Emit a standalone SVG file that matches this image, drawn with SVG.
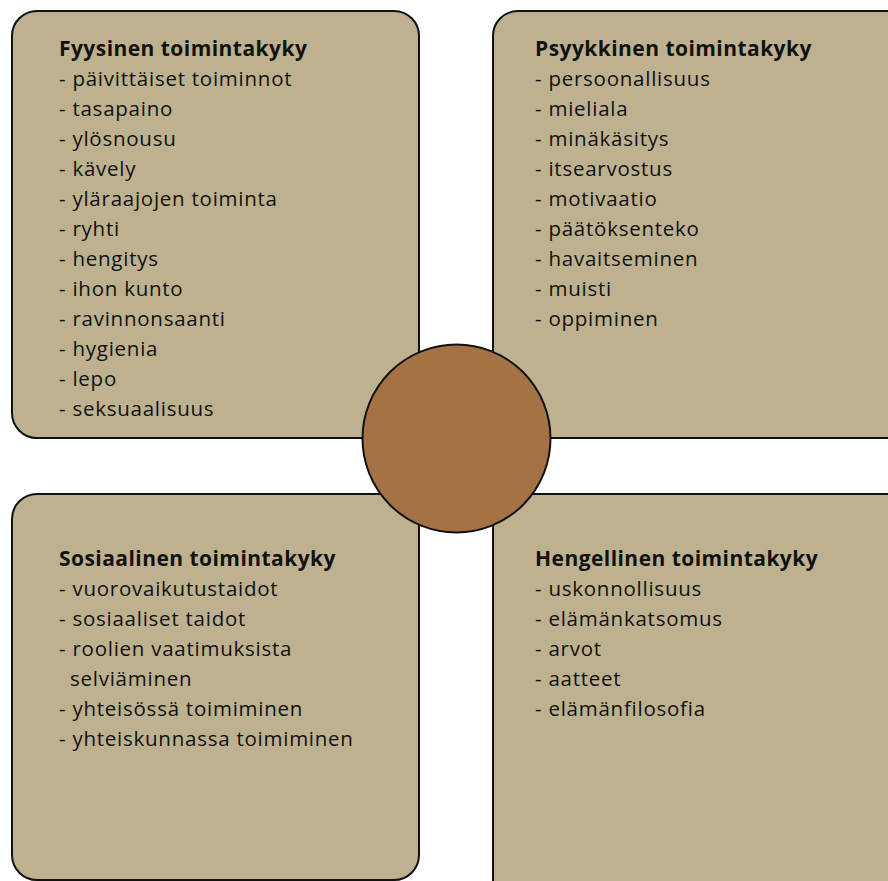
<svg xmlns="http://www.w3.org/2000/svg" width="888" height="881" viewBox="0 0 888 881">
<style>
.box{fill:#BEB18F;stroke:#111;stroke-width:2}
.hub{fill:#A57245;stroke:#111;stroke-width:2}
text{font-family:"Open Sans","Liberation Sans",sans-serif;font-size:20.5px;letter-spacing:0.75px;fill:#111}
.t{font-weight:bold;font-size:21px;letter-spacing:0.45px}
</style>
<rect width="888" height="881" fill="#fff"/>
<g id="fyysinen">
<rect class="box" x="12" y="11" width="407" height="427" rx="25"/>
<text class="t" x="59" y="56">Fyysinen toimintakyky</text>
<text x="59" y="86">- päivittäiset toiminnot</text>
<text x="59" y="116">- tasapaino</text>
<text x="59" y="146">- ylösnousu</text>
<text x="59" y="176">- kävely</text>
<text x="59" y="206">- yläraajojen toiminta</text>
<text x="59" y="236">- ryhti</text>
<text x="59" y="266">- hengitys</text>
<text x="59" y="296">- ihon kunto</text>
<text x="59" y="326">- ravinnonsaanti</text>
<text x="59" y="356">- hygienia</text>
<text x="59" y="386">- lepo</text>
<text x="59" y="416">- seksuaalisuus</text>
</g>
<g id="psyykkinen">
<rect class="box" x="493" y="11" width="420" height="427" rx="25"/>
<text class="t" x="535" y="56">Psyykkinen toimintakyky</text>
<text x="535" y="86">- persoonallisuus</text>
<text x="535" y="116">- mieliala</text>
<text x="535" y="146">- minäkäsitys</text>
<text x="535" y="176">- itsearvostus</text>
<text x="535" y="206">- motivaatio</text>
<text x="535" y="236">- päätöksenteko</text>
<text x="535" y="266">- havaitseminen</text>
<text x="535" y="296">- muisti</text>
<text x="535" y="326">- oppiminen</text>
</g>
<g id="sosiaalinen">
<rect class="box" x="12" y="494" width="407" height="386" rx="25"/>
<text class="t" x="59" y="566">Sosiaalinen toimintakyky</text>
<text x="59" y="596">- vuorovaikutustaidot</text>
<text x="59" y="626">- sosiaaliset taidot</text>
<text x="59" y="656">- roolien vaatimuksista</text>
<text x="70" y="686">selviäminen</text>
<text x="59" y="716">- yhteisössä toimiminen</text>
<text x="59" y="746">- yhteiskunnassa toimiminen</text>
</g>
<g id="hengellinen">
<rect class="box" x="493" y="494" width="420" height="420" rx="25"/>
<text class="t" x="535" y="566">Hengellinen toimintakyky</text>
<text x="535" y="596">- uskonnollisuus</text>
<text x="535" y="626">- elämänkatsomus</text>
<text x="535" y="656">- arvot</text>
<text x="535" y="686">- aatteet</text>
<text x="535" y="716">- elämänfilosofia</text>
</g>
<g id="keskus">
<circle class="hub" cx="456.5" cy="438.5" r="94"/>
</g>
<g id="connectors"/>
</svg>
